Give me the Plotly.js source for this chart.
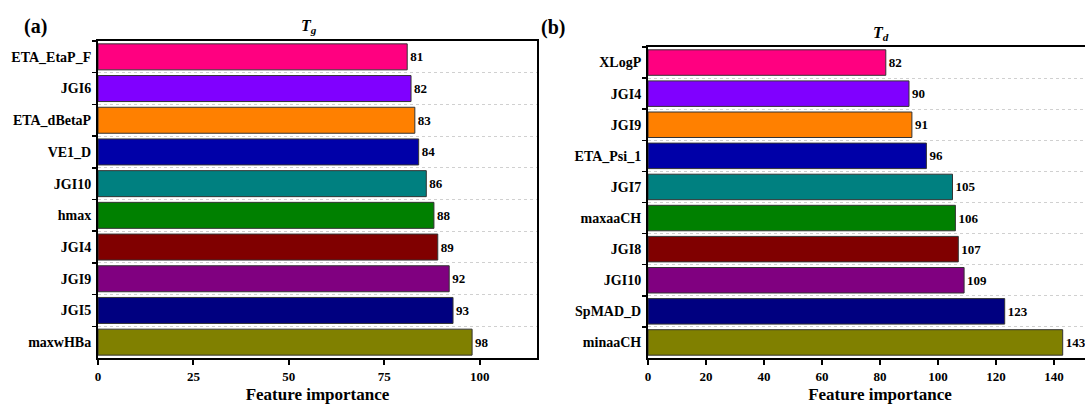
<!DOCTYPE html>
<html>
<head>
<meta charset="utf-8">
<script src="https://cdn.plot.ly/plotly-3.0.1.min.js"></script>
<style>
html,body{margin:0;padding:0;overflow:hidden;background:#fff;}
#chart{width:1120px;height:405px;}
</style>
</head>
<body>
<div id="chart"></div>
<script>
// Panel (a): Tg
const featuresA = ["ETA_EtaP_F","JGI6","ETA_dBetaP","VE1_D","JGI10","hmax","JGI4","JGI9","JGI5","maxwHBa"];
const importanceA = [81,82,83,84,86,88,89,92,93,98];
// Panel (b): Td
const featuresB = ["XLogP","JGI4","JGI9","ETA_Psi_1","JGI7","maxaaCH","JGI8","JGI10","SpMAD_D","minaaCH"];
const importanceB = [82,90,91,96,105,106,107,109,123,143];
// Bar colours (top to bottom)
const barColors = ["#FF0080","#8000FF","#FF8000","#0000A8","#008080","#008000","#800000","#800080","#000080","#808000"];
const ticksA = [0,25,50,75,100];
const ticksB = [0,20,40,60,80,100,120,140];

const W = 1120, H = 405;
const FONT = "Liberation Serif, Times New Roman, serif";

function barTrace(cats, vals, xa, ya){
  return {
    type:"bar", orientation:"h", y:cats, x:vals,
    xaxis:xa, yaxis:ya, width:0.82,
    marker:{color:barColors, line:{color:"#333", width:1}},
    text:vals.map(String), textposition:"outside", cliponaxis:false,
    textfont:{family:FONT, size:13, color:"#000", weight:"bold"},
    hoverinfo:"x+y", showlegend:false
  };
}

function xAxis(domain, range, ticks, anchor){
  return {
    domain:domain, range:range, anchor:anchor,
    tickmode:"array", tickvals:ticks, ticktext:ticks.map(String),
    ticks:"outside", ticklen:5, tickwidth:2, tickcolor:"#000",
    showline:true, linewidth:2, linecolor:"#000", mirror:true,
    showgrid:false, zeroline:false,
    tickfont:{family:FONT, size:13, color:"#000", weight:"bold"},
    title:{text:"Feature importance", font:{family:FONT, size:17, color:"#000", weight:"bold"}, standoff:6},
    automargin:false, fixedrange:true
  };
}
function yAxis(domain, anchor){
  return {
    domain:domain, anchor:anchor, autorange:"reversed", type:"category",
    tickson:"boundaries", ticks:"outside", ticklen:4, tickwidth:1.5, tickcolor:"#000",
    showline:true, linewidth:2, linecolor:"#000", mirror:true,
    showgrid:true, gridcolor:"#d0d0d0", gridwidth:1, griddash:"dot",
    tickfont:{family:FONT, size:14, color:"#000", weight:"bold"},
    ticklabelstandoff:2,
    automargin:false, fixedrange:true
  };
}

const layout = {
  width:W, height:H, margin:{l:0,r:0,t:0,b:0},
  paper_bgcolor:"#fff", plot_bgcolor:"#fff",
  font:{family:FONT, color:"#000"},
  bargap:0.18,
  xaxis: xAxis([98/W, 537/W], [0,115], ticksA, "y"),
  yaxis: yAxis([1-358/H, 1-41/H], "x"),
  xaxis2: xAxis([648/W, 1112/W], [0,160], ticksB, "y2"),
  yaxis2: yAxis([1-358/H, 1-47/H], "x2"),
  annotations:[
    {text:"<b>(a)</b>", xref:"paper", yref:"paper", x:35/W, y:1-26/H, xanchor:"center", yanchor:"middle", showarrow:false, font:{family:FONT, size:20, color:"#000"}},
    {text:"<b>(b)</b>", xref:"paper", yref:"paper", x:553/W, y:1-28/H, xanchor:"center", yanchor:"middle", showarrow:false, font:{family:FONT, size:20, color:"#000"}},
    {text:"<b><i>T</i></b><sub><b><i>g</i></b></sub>", xref:"paper", yref:"paper", x:309/W, y:1-26/H, xanchor:"center", yanchor:"middle", showarrow:false, font:{family:FONT, size:16, color:"#000"}},
    {text:"<b><i>T</i></b><sub><b><i>d</i></b></sub>", xref:"paper", yref:"paper", x:881/W, y:1-34/H, xanchor:"center", yanchor:"middle", showarrow:false, font:{family:FONT, size:16, color:"#000"}}
  ]
};

Plotly.newPlot("chart", [
  barTrace(featuresA, importanceA, "x", "y"),
  barTrace(featuresB, importanceB, "x2", "y2")
], layout, {displayModeBar:false, staticPlot:true});
</script>
</body>
</html>
